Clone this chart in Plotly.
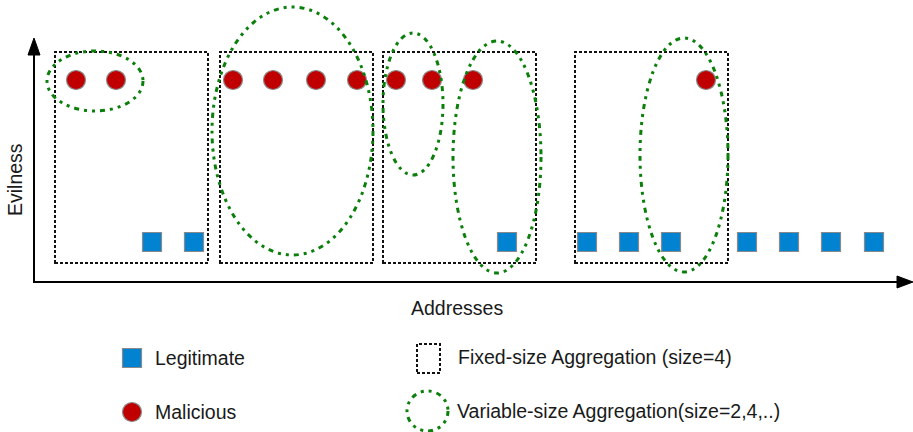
import plotly.graph_objects as go

# ---------------- data ----------------
# address positions (horizontal position along the "Addresses" axis)
malicious_addr = [76, 116, 233, 273, 316, 357, 396, 432, 473, 706]
malicious_evil = [1, 1, 1, 1, 1, 1, 1, 1, 1, 1]
legit_addr = [152, 194, 507, 587, 629, 671, 747, 789, 831, 874]
legit_evil = [0, 0, 0, 0, 0, 0, 0, 0, 0, 0]

# fixed-size aggregation windows (size=4): address extents
fixed_start = [55, 220, 383, 575]
fixed_end = [208, 373, 536, 728]

# variable-size aggregation groups: address extents and vertical extents
var_start = [47, 212, 383, 453, 640]
var_end = [143, 373, 443, 541, 728]
var_top = [51, 7, 33, 41, 38]
var_bottom = [111, 255, 175, 273, 272]

legend_labels = ["Legitimate", "Malicious",
                 "Fixed-size Aggregation (size=4)",
                 "Variable-size Aggregation(size=2,4,..)"]

# ---------------- styling ----------------
W, H = 913, 432
RED = "#C00000"
BLUE = "#0283D1"
GREEN = "#0A7F0A"
EDGE = "#8a8a8a"
TXT = "#1a1a1a"
FONT = "Liberation Sans, Arial, sans-serif"
FS = 19.5

# pixel row of evilness 1 and 0 -> y axis range
ROW1, ROW0 = 80, 242
unit = ROW0 - ROW1
y_top = 1 + ROW1 / unit
y_bot = -(H - ROW0) / unit


def py(p):
    return 1 - p / H


fig = go.Figure()

fig.add_trace(go.Scatter(
    x=legit_addr, y=legit_evil, mode="markers", name="Legitimate",
    marker=dict(symbol="square", size=19, color=BLUE,
                line=dict(color=EDGE, width=1.2)),
    showlegend=False, hoverinfo="skip"))
fig.add_trace(go.Scatter(
    x=malicious_addr, y=malicious_evil, mode="markers", name="Malicious",
    marker=dict(symbol="circle", size=19, color=RED,
                line=dict(color=EDGE, width=1.2)),
    showlegend=False, hoverinfo="skip"))

BOX_LINE = dict(color="#111111", width=2, dash="3px,2px")
ELL_DASH = "5px,5px,3px,5px,3px,5px"

shapes = []
# fixed-size boxes
for a, b in zip(fixed_start, fixed_end):
    shapes.append(dict(type="rect", xref="x", yref="paper",
                       x0=a, x1=b, y0=py(263), y1=py(52),
                       line=BOX_LINE, layer="below"))
# variable-size ellipses
for a, b, t, bt in zip(var_start, var_end, var_top, var_bottom):
    shapes.append(dict(type="circle", xref="x", yref="paper",
                       x0=a, x1=b, y0=py(bt), y1=py(t),
                       line=dict(color=GREEN, width=3, dash=ELL_DASH),
                       layer="above"))

# axes with arrows
shapes.append(dict(type="line", xref="x", yref="paper",
                   x0=34, x1=900, y0=py(282), y1=py(282),
                   line=dict(color="black", width=2)))
shapes.append(dict(type="line", xref="x", yref="paper",
                   x0=34, x1=34, y0=py(283), y1=py(52),
                   line=dict(color="black", width=2)))
shapes.append(dict(type="path", xref="x", yref="paper",
                   path=f"M 913 {py(282)} L 897 {py(276)} L 897 {py(288)} Z",
                   fillcolor="black", line=dict(color="black", width=1)))
shapes.append(dict(type="path", xref="x", yref="paper",
                   path=f"M 34 {py(38)} L 28 {py(55)} L 40 {py(55)} Z",
                   fillcolor="black", line=dict(color="black", width=1)))

# legend glyphs
shapes.append(dict(type="rect", xref="x", yref="paper",
                   x0=122.5, x1=141.5, y0=py(367.5), y1=py(348.5),
                   fillcolor=BLUE, line=dict(color=EDGE, width=1.2)))
shapes.append(dict(type="circle", xref="x", yref="paper",
                   x0=122.5, x1=141.5, y0=py(421.5), y1=py(402.5),
                   fillcolor=RED, line=dict(color=EDGE, width=1.2)))
shapes.append(dict(type="rect", xref="x", yref="paper",
                   x0=417, x1=440, y0=py(373), y1=py(344),
                   line=BOX_LINE))
shapes.append(dict(type="circle", xref="x", yref="paper",
                   x0=407, x1=448, y0=py(431), y1=py(391),
                   line=dict(color=GREEN, width=3, dash=ELL_DASH)))

annotations = [
    dict(text="Evilness", x=15, y=py(180), xref="x", yref="paper",
         textangle=-90, showarrow=False, xanchor="center", yanchor="middle",
         font=dict(size=FS, color=TXT, family=FONT)),
    dict(text="Addresses", x=457, y=py(308), xref="x", yref="paper",
         showarrow=False, xanchor="center", yanchor="middle",
         font=dict(size=FS, color=TXT, family=FONT)),
]
legend_pos = [(153, 358), (153, 412), (456, 357), (455, 411)]
for lab, (lx, ly) in zip(legend_labels, legend_pos):
    annotations.append(dict(text=lab, x=lx, y=py(ly), xref="x", yref="paper",
                            showarrow=False, xanchor="left", yanchor="middle",
                            font=dict(size=FS, color=TXT, family=FONT)))

fig.update_layout(
    width=W, height=H, margin=dict(l=0, r=0, t=0, b=0, pad=0),
    paper_bgcolor="white", plot_bgcolor="white",
    xaxis=dict(range=[0, W], visible=False, fixedrange=True),
    yaxis=dict(range=[y_bot, y_top], visible=False, fixedrange=True),
    shapes=shapes, annotations=annotations, showlegend=False,
)

fig.write_html("out.html", config={"displayModeBar": False},
               post_script="document.body.style.margin='0';")
